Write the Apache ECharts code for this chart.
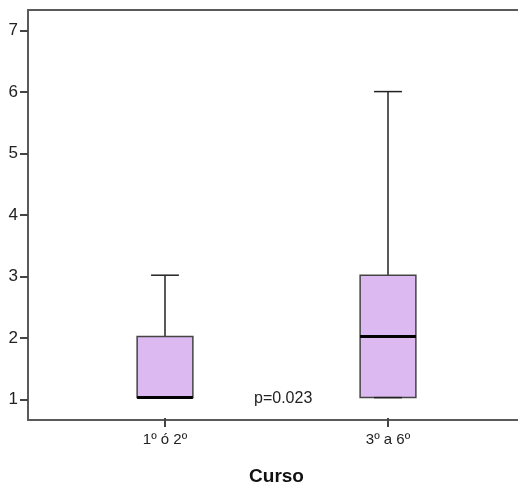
<!DOCTYPE html>
<html>
<head>
<meta charset="utf-8">
<script src="https://cdn.jsdelivr.net/npm/echarts@6/dist/echarts.min.js"></script>
<style>
  html, body { margin: 0; padding: 0; background: #fff; }
  #chart { width: 518px; height: 491px; }
</style>
</head>
<body>
<div id="chart"></div>
<script>
  // datos
  const categories = ['1º ó 2º', '3º a 6º']
  const mins = [1, 1]
  const q1s = [1, 1]
  const medians = [1, 2]
  const q3s = [2, 3]
  const maxs = [3, 6]
  const yTicks = [1, 2, 3, 4, 5, 6, 7]
  const pText = 'p=0.023'

  const boxData = categories.map(function (c, i) {
    return [i, mins[i], q1s[i], medians[i], q3s[i], maxs[i]]
  })

  const chart = echarts.init(document.getElementById('chart'))
  const font = 'Liberation Sans, Arial, sans-serif'
  const frame = { color: '#5a5a5a', width: 2 }

  chart.setOption({
    animation: false,
    grid: [
      { // marco + eje y
        left: 28, top: 10, right: 0, bottom: 71
      },
      { // cajas
        left: 53.5, top: 10, right: 18.5, bottom: 71
      }
    ],
    xAxis: [
      {
        gridIndex: 0, type: 'value', min: 0, max: 1, position: 'bottom',
        axisLine: { show: true, lineStyle: frame },
        axisTick: { show: false }, axisLabel: { show: false }, splitLine: { show: false }
      },
      {
        gridIndex: 0, type: 'value', min: 0, max: 1, position: 'top',
        axisLine: { show: true, lineStyle: frame },
        axisTick: { show: false }, axisLabel: { show: false }, splitLine: { show: false }
      },
      {
        gridIndex: 1,
        type: 'category',
        data: categories,
        boundaryGap: true,
        axisLine: { show: false },
        axisTick: { show: true, alignWithLabel: true, length: 9, lineStyle: { color: '#444', width: 2 } },
        axisLabel: { margin: 14, color: '#222', fontSize: 15, fontFamily: font },
        name: 'Curso',
        nameLocation: 'middle',
        nameGap: 49,
        nameTextStyle: { color: '#111', fontSize: 19, fontWeight: 'bold', fontFamily: font }
      }
    ],
    yAxis: [
      {
        gridIndex: 0,
        type: 'value',
        min: 0.667,
        max: 7.333,
        axisLine: { show: true, lineStyle: frame },
        splitLine: { show: false },
        axisTick: { show: true, length: 8, customValues: yTicks, lineStyle: { color: '#444', width: 2 } },
        axisLabel: { margin: 10, color: '#222', fontSize: 17, fontFamily: font, customValues: yTicks }
      },
      {
        gridIndex: 1,
        type: 'value',
        min: 0.667,
        max: 7.333,
        show: false
      }
    ],
    series: [
      {
        type: 'custom',
        xAxisIndex: 2,
        yAxisIndex: 1,
        data: boxData,
        encode: { x: 0, y: [1, 2, 3, 4, 5] },
        renderItem: function (params, api) {
          const idx = api.value(0)
          const band = api.size([1, 0])[0]
          const half = band * 0.125
          const cap = band * 0.0625
          const pMin = api.coord([idx, api.value(1)])
          const pQ1 = api.coord([idx, api.value(2)])
          const pMed = api.coord([idx, api.value(3)])
          const pQ3 = api.coord([idx, api.value(4)])
          const pMax = api.coord([idx, api.value(5)])
          const cx = pMed[0]
          const line = { stroke: '#222', lineWidth: 1.5 }
          return {
            type: 'group',
            children: [
              { type: 'line', shape: { x1: cx, y1: pQ3[1], x2: cx, y2: pMax[1] }, style: line },
              { type: 'line', shape: { x1: cx - cap, y1: pMax[1], x2: cx + cap, y2: pMax[1] }, style: line },
              { type: 'line', shape: { x1: cx, y1: pQ1[1], x2: cx, y2: pMin[1] }, style: line },
              {
                type: 'rect',
                shape: { x: cx - half, y: pQ3[1], width: half * 2, height: pQ1[1] - pQ3[1] },
                style: { fill: '#dcb9f1', stroke: '#444', lineWidth: 1.5 }
              },
              { type: 'line', shape: { x1: cx - cap, y1: pMin[1], x2: cx + cap, y2: pMin[1] }, style: line },
              { type: 'line', shape: { x1: cx - half, y1: pMed[1], x2: cx + half, y2: pMed[1] }, style: { stroke: '#000', lineWidth: 3 } }
            ]
          }
        }
      }
    ],
    graphic: [
      {
        type: 'text',
        left: 254,
        top: 391,
        style: { text: pText, fill: '#222', font: '16px ' + font }
      }
    ]
  })
</script>
</body>
</html>
